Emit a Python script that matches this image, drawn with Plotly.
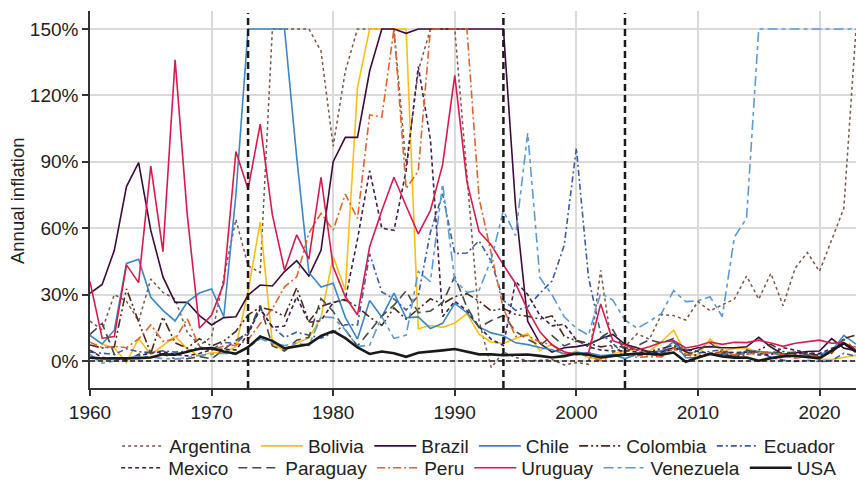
import plotly.graph_objects as go

years = list(range(1960, 2024))

argentina = [18, 14, 30, 27, 18, 37, 31, 28, 13, 7,
             11, 38, 64, 43, 40, 150, 150, 150, 150, 140,
             97, 131, 150, 150, 150, 150, 88, 131, 150, 150,
             150, 84, 18, -3, 4, 1.6, 0.1, 0.3, 0.7, -1.8,
             -0.7, -1.5, 41, 3.7, 6.5, 12.3, 9.8, 21, 20.5, 18.5,
             26.8, 22.7, 25.3, 28, 38.4, 27.9, 39.6, 25, 42, 49,
             40.5, 54.7, 69, 150]
bolivia = [11.5, 7.6, 5.9, -0.6, 10.2, 2.9, 7.0, 11.2, 5.5, 2.2,
           3.8, 3.7, 6.5, 31.5, 62.8, 8.0, 4.5, 8.1, 10.4, 19.7,
           47.2, 32.1, 123.5, 150, 150, 150, 150, 14.6, 16.0, 15.2,
           17.1, 21.4, 12.1, 8.5, 7.9, 10.2, 12.4, 4.7, 7.7, 2.2,
           4.6, 1.6, 0.9, 3.3, 4.4, 5.4, 4.3, 8.7, 14.0, 3.3,
           2.5, 9.9, 4.5, 5.7, 5.8, 4.1, 3.6, 2.8, 2.3, 1.8,
           0.9, 0.7, 1.7, 2.6]
brazil = [30.6, 34.6, 50, 78.8, 89.6, 59, 38, 26.5, 26.5, 20.5,
          16.3, 19.6, 20, 29.8, 34.3, 33.9, 40.4, 45.3, 38.4, 50,
          90, 101, 101, 131, 150, 150, 148, 150, 150, 150,
          150, 150, 150, 150, 150, 70, 18, 8, 4, 6,
          6.5, 7.5, 10, 12, 7.5, 6, 4, 4.5, 6, 4.5,
          6, 6.5, 6, 6, 6.4, 10.7, 6.3, 3, 3.7, 4.3,
          4.5, 10.1, 5.8, 4.6]
chile = [11.6, 7.7, 13.9, 44.1, 46.0, 28.8, 22.9, 18.1, 26.6, 30.7,
         32.5, 20.0, 75, 150, 150, 150, 150, 92, 40, 33.4,
         35.1, 19.7, 9.9, 27.3, 19.9, 30.7, 19.5, 19.9, 14.7, 17.0,
         26.0, 21.8, 15.4, 12.7, 11.4, 8.2, 7.4, 6.1, 5.1, 3.3,
         3.8, 3.6, 2.5, 2.8, 1.1, 3.1, 3.4, 4.4, 8.7, 1.5,
         1.4, 3.3, 3.0, 1.8, 4.7, 4.3, 3.8, 2.2, 2.3, 2.3,
         3.0, 4.5, 11.6, 7.6]
colombia = [7.2, 5.9, 6.4, 32.6, 17.7, 3.5, 19.9, 8.2, 5.8, 10.1,
            6.8, 9.0, 13.4, 20.8, 24.3, 22.9, 20.2, 33.1, 17.8, 24.7,
            26.5, 27.5, 24.5, 19.8, 16.1, 24.0, 18.9, 23.3, 28.1, 25.8,
            29.1, 30.4, 27.0, 22.6, 23.8, 21.0, 20.2, 18.9, 20.4, 11.2,
            9.2, 8.0, 6.4, 7.1, 5.9, 5.0, 4.3, 5.5, 7.0, 4.2,
            2.3, 3.4, 3.2, 2.0, 2.9, 5.0, 7.5, 4.3, 3.2, 3.5,
            2.5, 3.5, 10.2, 11.7]
ecuador = [4, 3.5, 3, 5.5, 4.2, 3.8, 4.6, 4, 4.4, 6.4,
           5.1, 8.4, 7.9, 13.0, 23.3, 15.4, 10.7, 13.0, 11.7, 10.3,
           12.8, 16.4, 16.3, 48.4, 31.2, 28.0, 23.0, 29.5, 58.2, 75.6,
           48.5, 48.8, 54.3, 45.0, 27.4, 22.9, 24.4, 30.6, 36.1, 52.2,
           96.1, 37.7, 12.5, 7.9, 2.7, 2.4, 3.0, 2.3, 8.4, 5.2,
           3.6, 4.5, 5.1, 2.7, 3.6, 4.0, 1.7, 0.4, -0.2, 0.3,
           -0.3, 0.1, 3.5, 2.2]
mexico = [4.9, 1.6, 1.2, 0.6, 2.3, 3.6, 4.2, 3.0, 2.3, 3.4,
          5.2, 5.3, 5.0, 12.0, 23.8, 15.2, 15.8, 29.0, 17.5, 18.2,
          26.4, 27.9, 55, 86, 60, 59, 86, 133, 100, 20,
          27, 22.7, 15.5, 9.8, 7.0, 36, 30, 20.6, 15.9, 16.6,
          9.5, 6.4, 5.0, 4.5, 4.7, 4.0, 3.6, 4.0, 5.1, 5.3,
          4.2, 3.4, 4.1, 3.8, 4.0, 2.7, 2.8, 6.0, 4.9, 3.6,
          3.4, 5.7, 7.9, 5.5]
paraguay = [12, 17, 3, 0, 3, 4, 3, 1, 1, 2,
            1, 5, 9.3, 12.8, 25.2, 6.8, 4.5, 9.4, 10.7, 28.2,
            22.4, 14.0, 6.8, 13.4, 20.3, 25.2, 31.7, 21.8, 22.6, 26.4,
            38.2, 24.3, 15.1, 18.3, 20.6, 13.4, 9.8, 7.0, 11.5, 6.8,
            9.0, 7.3, 10.5, 14.2, 4.3, 6.8, 9.6, 8.1, 10.2, 2.6,
            4.7, 8.3, 3.7, 2.7, 5.0, 3.1, 4.1, 3.6, 4.0, 2.8,
            1.8, 4.8, 9.8, 4.6]
peru = [8.5, 6.0, 6.6, 6.0, 10.0, 16.3, 8.9, 9.8, 19.1, 6.3,
        4.9, 6.8, 7.2, 9.5, 16.9, 23.6, 33.5, 38.0, 57.8, 66.7,
        59.2, 75.4, 64.4, 111.2, 110.2, 150, 77.9, 85.8, 150, 150,
        150, 150, 73.5, 48.6, 23.7, 11.1, 11.5, 8.5, 7.3, 3.5,
        3.8, 2.0, 0.2, 2.3, 3.7, 1.6, 2.0, 1.8, 5.8, 2.9,
        1.5, 3.4, 3.7, 2.8, 3.2, 3.6, 3.6, 2.8, 1.3, 2.1,
        1.8, 4.0, 7.9, 6.3]
uruguay = [35.8, 10.3, 11, 43.4, 35.4, 88, 49.4, 136, 66, 14.8,
           20.8, 35, 94.6, 77.6, 107, 66, 41, 57, 46, 83,
           42.6, 29, 20.8, 51.6, 68, 83, 70, 57.4, 68, 88.6,
           129, 81, 58.4, 52.4, 43.4, 35, 23, 13.2, 7.2, 4.2,
           2.7, 3.6, 25.8, 9.2, 7.2, 4.9, 6.4, 8.5, 9.2, 5.9,
           6.9, 8.6, 7.5, 8.5, 8.3, 9.4, 8.1, 6.6, 8.0, 8.8,
           9.4, 8.0, 8.3, 5.1]
venezuela = [3, -1, 0, 1.5, 2, 2, 1, 1, 1.5, 2.5,
             3, 3.5, 3, 6, 10, 8, 7, 8, 7, 20,
             19.6, 14, 6.5, 7.2, 20, 10.2, 11.7, 40.4, 35.8, 80,
             36.5, 31.0, 31.9, 45.9, 68, 56.6, 103, 37.6, 29.9, 20,
             14.8, 11.7, 30.6, 27.5, 18.5, 14.8, 17.8, 21.5, 31.8, 26.8,
             27.2, 29, 20, 56, 64.5, 150, 150, 150, 150, 150,
             150, 150, 150, 150]
usa = [1.5, 1.1, 1.2, 1.2, 1.3, 1.6, 3.0, 2.8, 4.3, 5.5,
       5.8, 4.3, 3.3, 6.2, 11.1, 9.1, 5.7, 6.5, 7.6, 11.3,
       13.5, 10.3, 6.1, 3.2, 4.3, 3.5, 1.9, 3.7, 4.1, 4.8,
       5.4, 4.2, 3.0, 3.0, 2.6, 2.8, 2.9, 2.3, 1.6, 2.2,
       3.4, 2.8, 1.6, 2.3, 2.7, 3.4, 3.2, 2.9, 3.8, -0.4,
       1.6, 3.2, 2.1, 1.5, 1.6, 0.1, 1.3, 2.1, 2.4, 1.8,
       1.2, 4.7, 8.0, 4.1]

event_years = [1973, 1994, 2004]
y_ticks = [0, 30, 60, 90, 120, 150]
y_labels = ["0%", "30%", "60%", "90%", "120%", "150%"]
x_ticks = [1960, 1970, 1980, 1990, 2000, 2010, 2020]

series = [
    # name, values, color, dash, width, legend
    ("Argentina", argentina, "#7a5646", "dot", 1.5, "legend"),
    ("Bolivia", bolivia, "#fcbf10", "solid", 1.6, "legend"),
    ("Brazil", brazil, "#3c0c3c", "solid", 1.6, "legend"),
    ("Chile", chile, "#3b86c6", "solid", 1.6, "legend"),
    ("Colombia", colombia, "#4a2a18", "9px,3px,2px,3px,2px,3px", 1.6, "legend"),
    ("Ecuador", ecuador, "#3d5aa8", "6px,3px,2px,3px", 1.6, "legend"),
    ("Mexico", mexico, "#3f1f4d", "4px,3px", 1.6, "legend2"),
    ("Paraguay", paraguay, "#444b46", "9px,5px", 1.6, "legend2"),
    ("Peru", peru, "#e0632c", "8px,3px,2px,3px", 1.6, "legend2"),
    ("Uruguay", uruguay, "#d81b4c", "solid", 1.6, "legend2"),
    ("Venezuela", venezuela, "#5b9bd5", "10px,4px,4px,4px", 1.6, "legend2"),
    ("USA", usa, "#1a1a1a", "solid", 2.6, "legend2"),
]

fig = go.Figure()
for name, vals, color, dash, width, leg in series:
    fig.add_trace(go.Scatter(
        x=years, y=vals, mode="lines", name=name,
        line=dict(color=color, dash=dash, width=width),
        legend=leg,
    ))

for ey in event_years:
    fig.add_shape(type="line", xref="x", yref="paper", x0=ey, x1=ey, y0=0, y1=0.995,
                  line=dict(color="#1a1a1a", width=2.5, dash="7px,4px"), layer="above")
fig.add_shape(type="line", xref="paper", yref="y", x0=0, x1=1, y0=0, y1=0,
              line=dict(color="#1a1a1a", width=1.5, dash="5px,3px"), layer="above")

font_family = "Liberation Sans, Arial, sans-serif"
fig.update_layout(
    width=856, height=483,
    margin=dict(l=90, r=0, t=11, b=95, autoexpand=False),
    plot_bgcolor="white", paper_bgcolor="white",
    font=dict(family=font_family, size=19, color="#222"),
    showlegend=True,
    legend=dict(orientation="h", x=0.508, xanchor="center", y=-0.154, yanchor="middle",
                itemwidth=42, font=dict(size=19), tracegroupgap=0, bgcolor="rgba(0,0,0,0)"),
    legend2=dict(orientation="h", x=0.508, xanchor="center", y=-0.212, yanchor="middle",
                 itemwidth=42, font=dict(size=19), tracegroupgap=0, bgcolor="rgba(0,0,0,0)"),
    annotations=[dict(text="Annual inflation", xref="paper", yref="paper",
                      x=-0.0953, y=0.496, xanchor="center", yanchor="middle",
                      textangle=-90, showarrow=False, font=dict(size=18.5, color="#222"))],
)
fig.update_xaxes(range=[1960, 2023], tickvals=x_ticks, showgrid=True, gridcolor="#dadada",
                 gridwidth=1.5, showline=True, linecolor="#333", linewidth=1.5,
                 ticks="outside", ticklen=6, tickwidth=1.5, tickcolor="#333", zeroline=False,
                 tickfont=dict(size=19))
fig.update_yaxes(range=[-12.2, 158.1], tickvals=y_ticks, ticktext=y_labels, showgrid=True,
                 gridcolor="#dadada", gridwidth=1.5, showline=True, linecolor="#333",
                 linewidth=1.5, ticks="outside", ticklen=6, tickwidth=1.5, tickcolor="#333",
                 zeroline=False, tickfont=dict(size=19))

fig.write_html("out.html")
